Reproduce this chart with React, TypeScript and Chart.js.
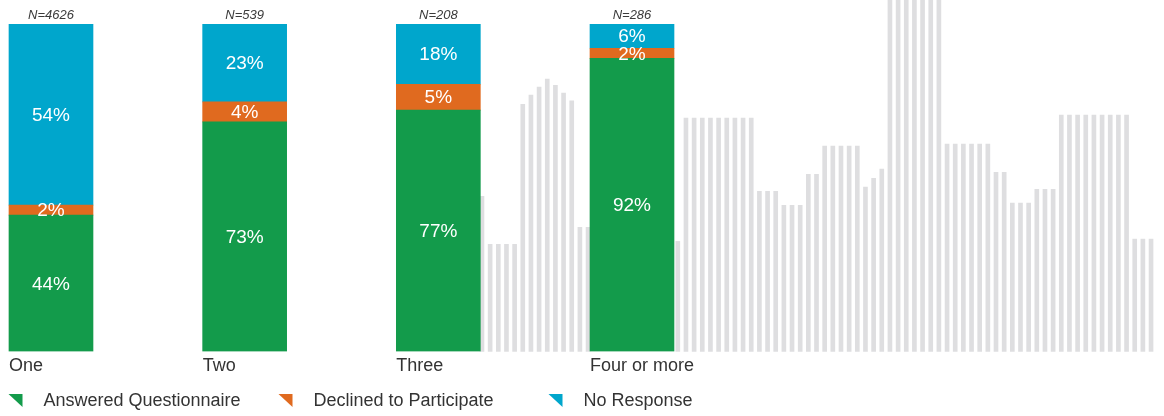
import React, { useEffect, useRef } from 'react';
import { Chart, registerables } from 'chart.js';

Chart.register(...registerables);

// ---- data ----
const categories = ['One', 'Two', 'Three', 'Four or more'];
const sampleSizes = ['N=4626', 'N=539', 'N=208', 'N=286'];
const seriesNames = ['Answered Questionnaire', 'Declined to Participate', 'No Response'];

// segment sizes as drawn (share of bar height, %)
const answered = [41.6, 70.1, 73.7, 89.5];
const declined = [3.1, 6.1, 7.9, 3.1];
const noResponse = [55.3, 23.8, 18.4, 7.4];

// printed labels
const answeredLabels = ['44%', '73%', '77%', '92%'];
const declinedLabels = ['2%', '4%', '5%', '2%'];
const noResponseLabels = ['54%', '23%', '18%', '6%'];

// decorative grey background columns (height in % of the bar scale)
const backgroundBars: (number | null)[] = [
  47.4, 32.7, 32.7, 32.7, 32.7, 75.5, 78.3, 80.7, 83.2, 81.3, 78.9, 76.5, 37.9, 37.9,
  null, null, null, null, null, null, null, null, null, null,
  33.6, 71.3, 71.3, 71.3, 71.3, 71.3, 71.3, 71.3, 71.3, 71.3,
  48.9, 48.9, 48.9, 44.6, 44.6, 44.6, 54.1, 54.1,
  62.7, 62.7, 62.7, 62.7, 62.7, 50.2, 52.9, 55.7,
  110, 110, 110, 110, 110, 110, 110,
  63.3, 63.3, 63.3, 63.3, 63.3, 63.3, 54.7, 54.7,
  45.3, 45.3, 45.3, 49.5, 49.5, 49.5,
  72.2, 72.2, 72.2, 72.2, 72.2, 72.2, 72.2, 72.2, 72.2,
  34.3, 34.3, 34.3,
];
// grey columns start just right of "Three" and repeat at a fixed pitch (in category units)
const GREY_ORIGIN = 2.2254;
const GREY_PITCH = 0.04213;

const COLORS = ['#139b4b', '#e06a1f', '#00a6cc'];
const GREY = '#dedee0';
const FONT = '"Liberation Sans", Arial, Helvetica, sans-serif';
const TEXT = '#333333';

const segmentLabels = [answeredLabels, declinedLabels, noResponseLabels];

const segmentLabelPlugin = {
  id: 'segmentLabels',
  afterDatasetsDraw(chart: any) {
    const ctx = chart.ctx;
    ctx.save();
    ctx.textAlign = 'center';
    ctx.textBaseline = 'middle';
    ctx.fillStyle = '#ffffff';
    ctx.font = `19px ${FONT}`;
    segmentLabels.forEach((labels, di) => {
      const meta = chart.getDatasetMeta(di);
      meta.data.forEach((bar: any, i: number) => {
        const { x, y, base } = bar.getProps(['x', 'y', 'base'], true);
        ctx.fillText(labels[i], x, (y + base) / 2 + 1);
      });
    });
    const topMeta = chart.getDatasetMeta(2);
    ctx.fillStyle = '#3a3a3a';
    ctx.font = `italic 13px ${FONT}`;
    topMeta.data.forEach((bar: any, i: number) => {
      const { x, y } = bar.getProps(['x', 'y'], true);
      ctx.fillText(sampleSizes[i], x, y - 9);
    });
    ctx.restore();
  },
};

const triangleLegendPlugin = {
  id: 'triangleLegend',
  afterDraw(chart: any, _args: any, opts: any) {
    const ctx = chart.ctx;
    const cy = chart.chartArea.bottom + opts.offsetY;
    ctx.save();
    ctx.font = `18px ${FONT}`;
    ctx.textAlign = 'left';
    ctx.textBaseline = 'middle';
    seriesNames.forEach((name, i) => {
      const x = opts.left + i * opts.column;
      ctx.fillStyle = COLORS[i];
      ctx.beginPath();
      ctx.moveTo(x, cy - 6.5);
      ctx.lineTo(x + 14, cy - 6.5);
      ctx.lineTo(x + 14, cy + 6.5);
      ctx.closePath();
      ctx.fill();
      ctx.fillStyle = TEXT;
      ctx.fillText(name, x + 35, cy + 1);
    });
    ctx.restore();
  },
};

export default function App() {
  const ref = useRef<HTMLCanvasElement | null>(null);

  useEffect(() => {
    document.body.style.margin = '0';
    if (!ref.current) return;
    const mainSets = [answered, declined, noResponse].map((vals, di) => ({
      label: seriesNames[di],
      data: vals.map((v, i) => ({ x: i, y: v })),
      backgroundColor: COLORS[di],
      borderWidth: 0,
      barThickness: 84,
      grouped: true,
      stack: 'main',
    }));
    const greySet = {
      label: 'background',
      data: backgroundBars.map((v, k) => ({ x: GREY_ORIGIN + k * GREY_PITCH, y: v })),
      backgroundColor: GREY,
      borderWidth: 0,
      grouped: false,
      barThickness: 4,
      maxBarThickness: 4,
      stack: 'bg',
      clip: false as any,
    };
    const chart = new Chart(ref.current, {
      type: 'bar',
      data: { datasets: [...mainSets, greySet] as any },
      options: {
        animation: false,
        responsive: false,
        devicePixelRatio: 1,
        layout: { padding: { top: 24, bottom: 35, left: 0, right: 0 } },
        plugins: {
          legend: { display: false },
          tooltip: { enabled: false },
          triangleLegend: { left: 8.5, column: 270, offsetY: 49 },
        } as any,
        scales: {
          x: {
            type: 'linear',
            offset: false,
            bounds: 'data',
            min: -0.2633,
            max: 5.747,
            stacked: true,
            grid: { display: false, drawTicks: false, offset: false },
            border: { display: false },
            afterBuildTicks: (scale: any) => {
              scale.ticks = categories.map((_, i) => ({ value: i }));
            },
            ticks: {
              autoSkip: false,
              align: 'start',
              labelOffset: -42,
              padding: 4,
              color: TEXT,
              font: { family: FONT, size: 18 },
              callback: (v: any) => categories[v as number] ?? '',
            },
          },
          y: {
            type: 'linear',
            display: false,
            stacked: true,
            min: 0,
            max: 100,
          },
        } as any,
      },
      plugins: [segmentLabelPlugin, triangleLegendPlugin],
    });
    return () => chart.destroy();
  }, []);

  return (
    <div style={{ width: 1164, height: 416 }}>
      <canvas ref={ref} width={1164} height={416} style={{ display: 'block' }} />
    </div>
  );
}
